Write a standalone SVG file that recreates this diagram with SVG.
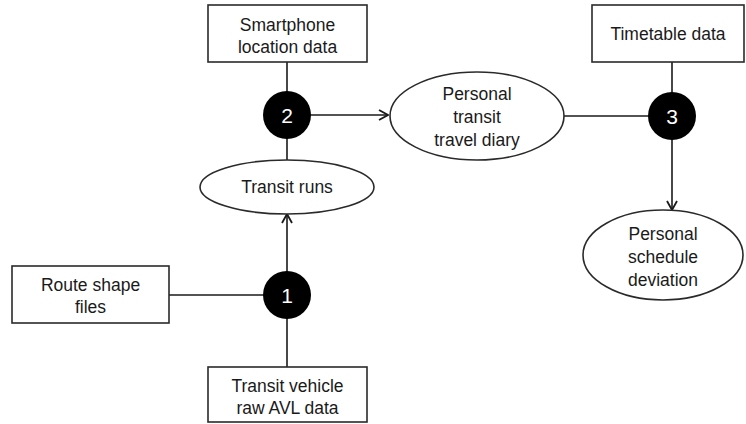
<svg xmlns="http://www.w3.org/2000/svg" width="746" height="424" viewBox="0 0 746 424">
  <style>
    .box { fill: #fff; stroke: #2a2a2a; stroke-width: 1.6; }
    .ell { fill: #fff; stroke: #2a2a2a; stroke-width: 1.6; }
    .hub { fill: #000; }
    .lbl { font-family: "Liberation Sans", Arial, sans-serif; font-size: 17.5px; fill: #1a1a1a; text-anchor: middle; }
    .num { font-family: "Liberation Sans", Arial, sans-serif; font-size: 21px; fill: #fff; text-anchor: middle; }
    .edge { fill: none; stroke: #1a1a1a; stroke-width: 1.6; }
  </style>
  <defs>
    <marker id="arrow" viewBox="0 0 12 12" refX="11" refY="6" markerWidth="12" markerHeight="12" markerUnits="userSpaceOnUse" orient="auto">
      <path d="M2,1 L11,6 L2,11" fill="none" stroke="#1a1a1a" stroke-width="1.8"/>
    </marker>
  </defs>

  <rect width="746" height="424" fill="#fff"/>

  <g id="connectors">
    <line class="edge" x1="287" y1="62" x2="287" y2="160"/>
    <line class="edge" x1="287" y1="115" x2="388" y2="115" marker-end="url(#arrow)"/>
    <line class="edge" x1="563" y1="116" x2="672" y2="116"/>
    <line class="edge" x1="672" y1="62" x2="672" y2="116"/>
    <line class="edge" x1="672" y1="116" x2="672" y2="210" marker-end="url(#arrow)"/>
    <line class="edge" x1="169" y1="295" x2="287" y2="295"/>
    <line class="edge" x1="287" y1="367" x2="287" y2="295"/>
    <line class="edge" x1="287" y1="295" x2="287" y2="214" marker-end="url(#arrow)"/>
  </g>

  <g id="smartphone">
    <rect class="box" x="208" y="5" width="159" height="57"/>
    <text class="lbl" x="287.5" y="31">Smartphone</text>
    <text class="lbl" x="287.5" y="53">location data</text>
  </g>

  <g id="timetable">
    <rect class="box" x="592" y="5" width="152" height="57"/>
    <text class="lbl" x="668" y="40">Timetable data</text>
  </g>

  <g id="route-shapes">
    <rect class="box" x="12" y="266" width="157" height="57"/>
    <text class="lbl" x="90.5" y="291">Route shape</text>
    <text class="lbl" x="90.5" y="313">files</text>
  </g>

  <g id="avl">
    <rect class="box" x="208" y="367" width="159" height="55"/>
    <text class="lbl" x="287.5" y="392">Transit vehicle</text>
    <text class="lbl" x="287.5" y="414">raw AVL data</text>
  </g>

  <g id="transit-runs">
    <ellipse class="ell" cx="287" cy="187" rx="87" ry="27"/>
    <text class="lbl" x="287" y="193">Transit runs</text>
  </g>

  <g id="travel-diary">
    <ellipse class="ell" cx="477" cy="116" rx="87" ry="44"/>
    <text class="lbl" x="477" y="100">Personal</text>
    <text class="lbl" x="477" y="123">transit</text>
    <text class="lbl" x="477" y="146">travel diary</text>
  </g>

  <g id="schedule-deviation">
    <ellipse class="ell" cx="663" cy="255" rx="80" ry="45"/>
    <text class="lbl" x="663" y="240">Personal</text>
    <text class="lbl" x="663" y="263">schedule</text>
    <text class="lbl" x="663" y="286">deviation</text>
  </g>

  <g id="step-1">
    <circle class="hub" cx="287" cy="295" r="24"/>
    <text class="num" x="287" y="302.5">1</text>
  </g>

  <g id="step-2">
    <circle class="hub" cx="287" cy="115" r="24"/>
    <text class="num" x="287" y="122.5">2</text>
  </g>

  <g id="step-3">
    <circle class="hub" cx="672" cy="116" r="24"/>
    <text class="num" x="672" y="123.5">3</text>
  </g>
</svg>
